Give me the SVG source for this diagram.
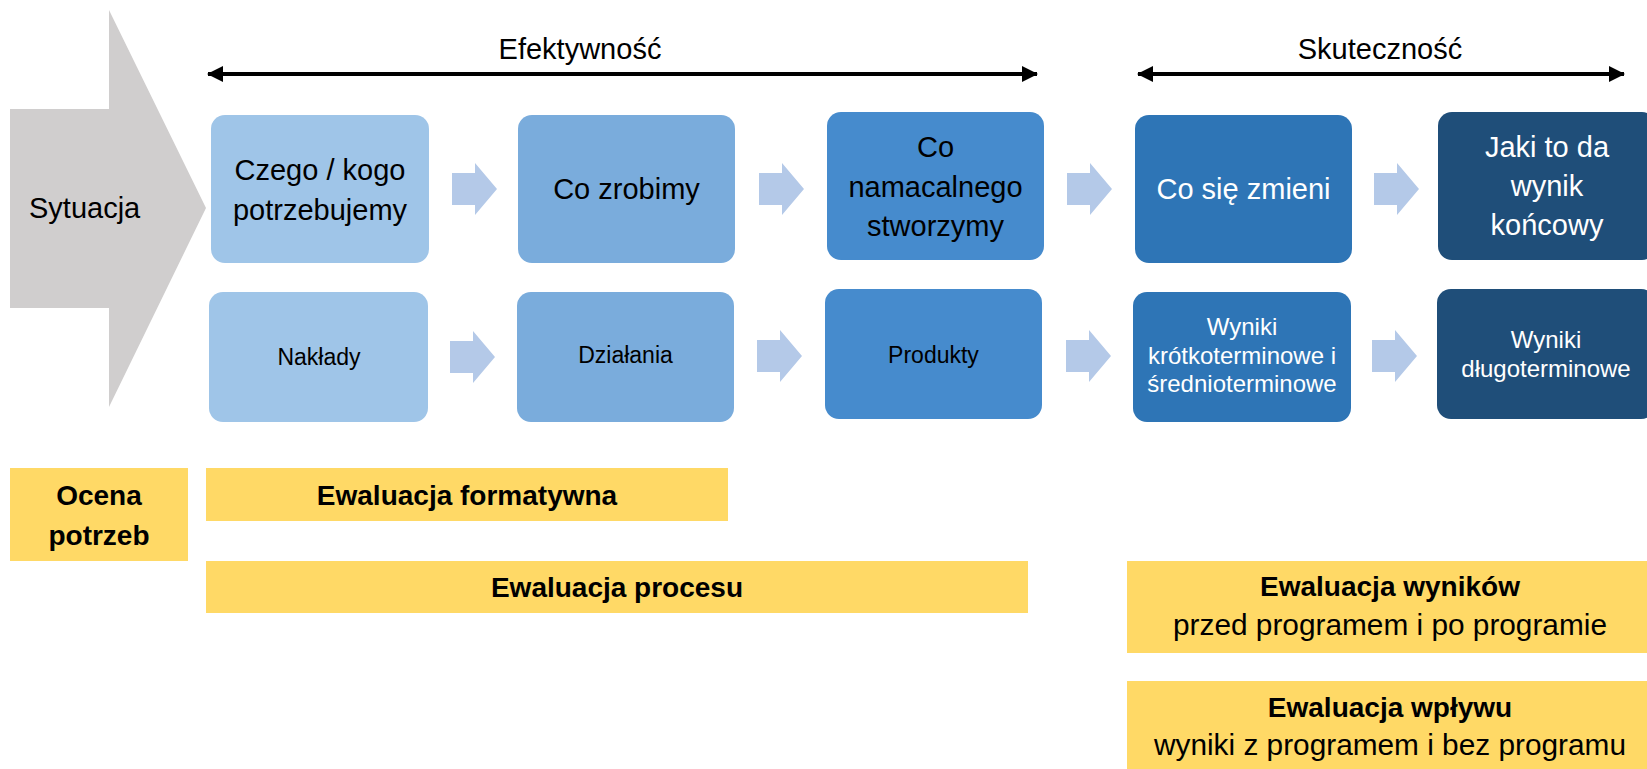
<svg xmlns="http://www.w3.org/2000/svg" width="1647" height="769" viewBox="0 0 1647 769">
  <style>
    text { font-family: "Liberation Sans", Arial, sans-serif; text-anchor: middle; fill: #000; }
    .big { font-size: 29px; }
    .small { font-size: 23px; }
    .wyn { font-size: 24px; }
    .light { fill: #fff; }
    .c1 { fill: #9fc5e8; }
    .c2 { fill: #7aacdc; }
    .c3 { fill: #468bcd; }
    .c4 { fill: #2e75b6; }
    .c5 { fill: #1f4e79; }
    .step { fill: #b4c9e8; }
    .bar { fill: #ffd966; }
    .bold { font-weight: bold; font-size: 28px; }
    .sub { font-size: 29.8px; }
    .span { stroke: #000; stroke-width: 4; fill: none; marker-start: url(#head); marker-end: url(#head); }
  </style>
  <defs>
    <marker id="head" viewBox="0 0 16 16" refX="15" refY="8" markerWidth="16" markerHeight="16" markerUnits="userSpaceOnUse" orient="auto-start-reverse">
      <path d="M0,0 L16,8 L0,16 Z" fill="#000"/>
    </marker>
    <path id="step" d="M0,-16 H23 V-26 L45,0 L23,26 V16 H0 Z"/>
  </defs>

  <rect width="1647" height="769" fill="#fff"/>

  <!-- situation arrow -->
  <g id="sytuacja">
    <polygon points="10,109 109,109 109,10 206,208 109,407 109,308 10,308" fill="#d0cece"/>
    <text x="29" y="218" class="big" style="text-anchor:start">Sytuacja</text>
  </g>

  <!-- range labels -->
  <g id="efektywnosc">
    <text x="580" y="59" class="big">Efektywność</text>
  </g>
  <g id="skutecznosc">
    <text x="1380" y="59" class="big">Skuteczność</text>
  </g>

  <!-- top row: plain-language questions -->
  <g id="q1">
    <rect x="211" y="115" width="218" height="148" rx="14" class="c1"/>
    <text x="320" y="180" class="big">Czego / kogo</text>
    <text x="320" y="220" class="big">potrzebujemy</text>
  </g>
  <g id="q2">
    <rect x="518" y="115" width="217" height="148" rx="14" class="c2"/>
    <text x="626.5" y="199" class="big">Co zrobimy</text>
  </g>
  <g id="q3">
    <rect x="827" y="112" width="217" height="148" rx="14" class="c3"/>
    <text x="935.5" y="157" class="big">Co</text>
    <text x="935.5" y="196.5" class="big">namacalnego</text>
    <text x="935.5" y="236" class="big">stworzymy</text>
  </g>
  <g id="q4">
    <rect x="1135" y="115" width="217" height="148" rx="14" class="c4"/>
    <text x="1243.5" y="199" class="big light">Co się zmieni</text>
  </g>
  <g id="q5">
    <rect x="1438" y="112" width="218" height="148" rx="14" class="c5"/>
    <text x="1547" y="157" class="big light">Jaki to da</text>
    <text x="1547" y="196" class="big light">wynik</text>
    <text x="1547" y="235" class="big light">końcowy</text>
  </g>

  <!-- bottom row: logic model terms -->
  <g id="naklady">
    <rect x="209" y="292" width="219" height="130" rx="14" class="c1"/>
    <text x="319" y="365" class="small">Nakłady</text>
  </g>
  <g id="dzialania">
    <rect x="517" y="292" width="217" height="130" rx="14" class="c2"/>
    <text x="625.5" y="363" class="small">Działania</text>
  </g>
  <g id="produkty">
    <rect x="825" y="289" width="217" height="130" rx="14" class="c3"/>
    <text x="933.5" y="363" class="small">Produkty</text>
  </g>
  <g id="wyniki-krotko">
    <rect x="1133" y="292" width="218" height="130" rx="14" class="c4"/>
    <text x="1242" y="335" class="wyn light">Wyniki</text>
    <text x="1242" y="364" class="wyn light">krótkoterminowe i</text>
    <text x="1242" y="392" class="wyn light">średnioterminowe</text>
  </g>
  <g id="wyniki-dlugo">
    <rect x="1437" y="289" width="218" height="130" rx="14" class="c5"/>
    <text x="1546" y="348" class="wyn light">Wyniki</text>
    <text x="1546" y="377" class="wyn light">długoterminowe</text>
  </g>

  <!-- evaluation types -->
  <g id="ocena-potrzeb">
    <rect x="10" y="468" width="178" height="93" class="bar"/>
    <text x="99" y="505" class="bold">Ocena</text>
    <text x="99" y="545" class="bold">potrzeb</text>
  </g>
  <g id="ewaluacja-formatywna">
    <rect x="206" y="468" width="522" height="53" class="bar"/>
    <text x="467" y="505" class="bold">Ewaluacja formatywna</text>
  </g>
  <g id="ewaluacja-procesu">
    <rect x="206" y="561" width="822" height="52" class="bar"/>
    <text x="617" y="597" class="bold">Ewaluacja procesu</text>
  </g>
  <g id="ewaluacja-wynikow">
    <rect x="1127" y="561" width="530" height="92" class="bar"/>
    <text x="1390" y="596" class="bold">Ewaluacja wyników</text>
    <text x="1390" y="635" class="sub">przed programem i po programie</text>
  </g>
  <g id="ewaluacja-wplywu">
    <rect x="1127" y="681" width="530" height="100" class="bar"/>
    <text x="1390" y="717" class="bold">Ewaluacja wpływu</text>
    <text x="1390" y="755" class="sub">wyniki z programem i bez programu</text>
  </g>

  <!-- connectors -->
  <g id="connectors">
    <line x1="208" y1="74" x2="1037" y2="74" class="span"/>
    <line x1="1138" y1="74" x2="1624" y2="74" class="span"/>
    <use href="#step" x="452" y="189" class="step"/>
    <use href="#step" x="759" y="189" class="step"/>
    <use href="#step" x="1067" y="189" class="step"/>
    <use href="#step" x="1374" y="189" class="step"/>
    <use href="#step" x="450" y="357" class="step"/>
    <use href="#step" x="757" y="356" class="step"/>
    <use href="#step" x="1066" y="356" class="step"/>
    <use href="#step" x="1372" y="356" class="step"/>
  </g>
</svg>
